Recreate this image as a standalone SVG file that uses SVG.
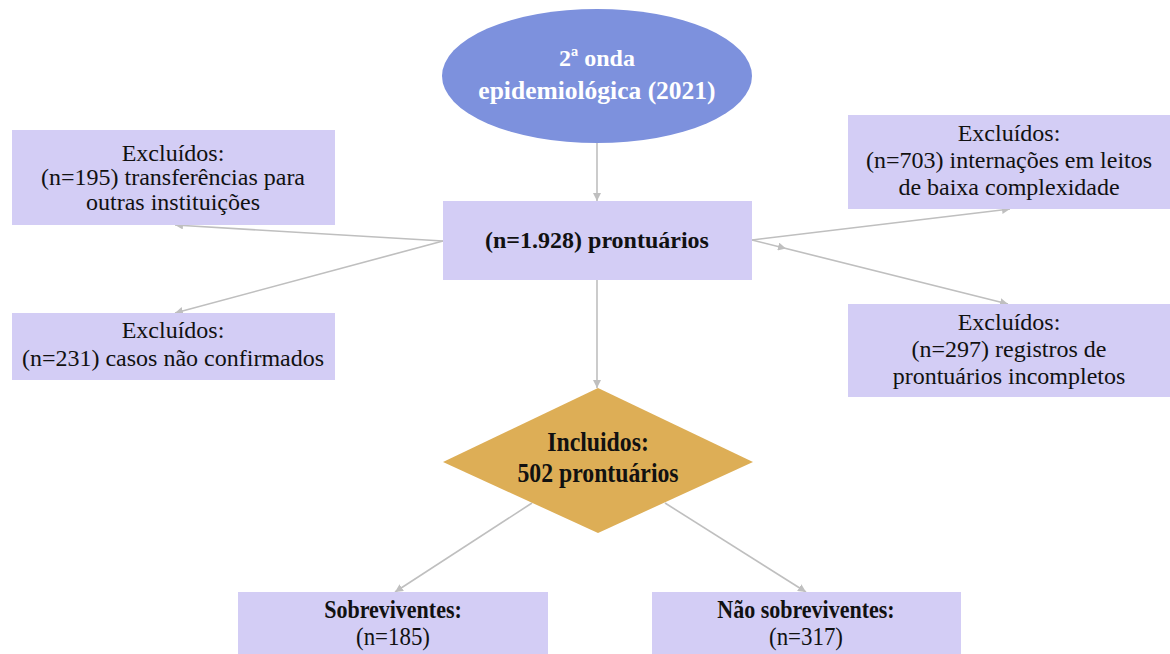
<svg xmlns="http://www.w3.org/2000/svg" width="1170" height="654" viewBox="0 0 1170 654">
<defs>
<style>
.box{fill:#d3cdf5;}
.t{font-family:"Liberation Serif","Times New Roman",serif;font-size:24px;fill:#111;text-anchor:middle;}
.b{font-weight:bold;}
.w{fill:#ffffff;}
.c{fill:none;stroke:#bfbfbf;stroke-width:1.6;}
</style>
<marker id="ah" viewBox="0 0 10 10" refX="10" refY="5" markerWidth="8" markerHeight="8" markerUnits="userSpaceOnUse" orient="auto">
<path d="M0,0 L10,5 L0,10 z" fill="#bfbfbf"/>
</marker>
</defs>
<rect width="1170" height="654" fill="#ffffff"/>
<g id="connectors">
<path class="c" d="M597,143 L597,201" marker-end="url(#ah)"/>
<path class="c" d="M443,241 L175,225" marker-end="url(#ah)"/>
<path class="c" d="M443,241 L175,313" marker-end="url(#ah)"/>
<path class="c" d="M752,240 L1010,209" marker-end="url(#ah)"/>
<path class="c" d="M752,240 L786,248.5 L1008,304" marker-mid="url(#ah)" marker-end="url(#ah)"/>
<path class="c" d="M597,280 L597,388" marker-end="url(#ah)"/>
<path class="c" d="M532,503 L395,592" marker-end="url(#ah)"/>
<path class="c" d="M665,503 L806,592" marker-end="url(#ah)"/>
</g>
<g id="start">
<ellipse cx="597" cy="76" rx="155" ry="67" fill="#7d91dd"/>
<text class="t b w" x="597" y="66" font-size="26">2ª onda</text>
<text class="t b w" x="597" y="99" font-size="26" style="font-size:25.5px">epidemiológica (2021)</text>
</g>
<g id="total">
<rect class="box" x="443" y="201" width="309" height="79"/>
<text class="t b" x="597" y="248">(n=1.928) prontuários</text>
</g>
<g id="excl-transfer">
<rect class="box" x="12" y="130" width="323" height="95"/>
<text class="t" x="173" y="161">Excluídos:</text>
<text class="t" x="173" y="185">(n=195) transferências para</text>
<text class="t" x="173" y="210">outras instituições</text>
</g>
<g id="excl-nao-confirmados">
<rect class="box" x="12" y="313" width="323" height="67"/>
<text class="t" x="173" y="338">Excluídos:</text>
<text class="t" x="173" y="366">(n=231) casos não confirmados</text>
</g>
<g id="excl-baixa">
<rect class="box" x="848" y="115" width="322" height="94"/>
<text class="t" x="1009" y="141">Excluídos:</text>
<text class="t" x="1009" y="168">(n=703) internações em leitos</text>
<text class="t" x="1009" y="195">de baixa complexidade</text>
</g>
<g id="excl-incompletos">
<rect class="box" x="848" y="304" width="322" height="93"/>
<text class="t" x="1009" y="330">Excluídos:</text>
<text class="t" x="1009" y="357">(n=297) registros de</text>
<text class="t" x="1009" y="384">prontuários incompletos</text>
</g>
<g id="incluidos">
<polygon points="598,388 753,462 598,533 443,462" fill="#ddae56"/>
<text class="t b" transform="translate(598,451) scale(0.88,1)" x="0" y="0" style="font-size:27px">Incluidos:</text>
<text class="t b" transform="translate(598,482) scale(0.88,1)" x="0" y="0" style="font-size:27px">502 prontuários</text>
</g>
<g id="sobreviventes">
<rect class="box" x="238" y="592" width="310" height="62"/>
<text class="t b" transform="translate(393,618) scale(0.88,1)" style="font-size:25px">Sobreviventes:</text>
<text class="t" transform="translate(393,645) scale(0.88,1)" style="font-size:26px">(n=185)</text>
</g>
<g id="nao-sobreviventes">
<rect class="box" x="652" y="592" width="309" height="62"/>
<text class="t b" transform="translate(806,618) scale(0.88,1)" style="font-size:25px">Não sobreviventes:</text>
<text class="t" transform="translate(806,645) scale(0.88,1)" style="font-size:26px">(n=317)</text>
</g>
</svg>
